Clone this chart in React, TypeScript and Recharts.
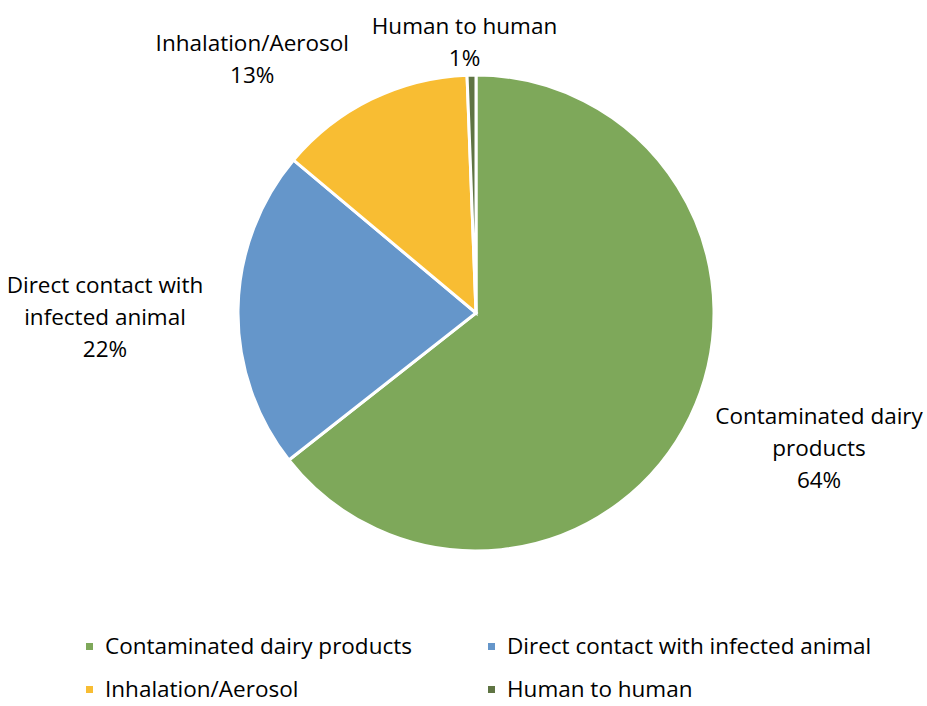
import { Pie, PieChart, Cell, Legend } from 'recharts';

const categories = ['Contaminated dairy products', 'Direct contact with infected animal', 'Inhalation/Aerosol', 'Human to human'];
const shares = [64.4, 21.7, 13.3, 0.6];
const labelLines = [
  ['Contaminated dairy', 'products'],
  ['Direct contact with', 'infected animal'],
  ['Inhalation/Aerosol'],
  ['Human to human'],
];
const colors = ['#7ea85a', '#6596ca', '#f8bd33', '#5f7443'];
// label offsets from the slice's outer edge
const labelShift = [
  [129, 30],
  [-133, 7],
  [-119, -41],
  [-7, -34],
];

const data = categories.map((name, i) => ({ name, value: shares[i] }));
const total = shares.reduce((a, b) => a + b, 0);
const FONT = '"Open Sans", sans-serif';
const FS = 22.5;
const RAD = Math.PI / 180;

function renderLabel(props: any) {
  const { cx, cy, midAngle, outerRadius, index, value } = props;
  const ex = cx + outerRadius * Math.cos(-midAngle * RAD);
  const ey = cy + outerRadius * Math.sin(-midAngle * RAD);
  const x = ex + labelShift[index][0];
  const y = ey + labelShift[index][1];
  const lines = [...labelLines[index], `${Math.round((value / total) * 100 + 1e-6)}%`];
  const lh = 32;
  const y0 = y - ((lines.length - 1) * lh) / 2;
  return (
    <text key={index} x={x} y={y0} textAnchor="middle" dominantBaseline="central" fill="#000" fontSize={FS} fontFamily={FONT}>
      {lines.map((l, i) => (
        <tspan key={i} x={x} y={y0 + i * lh} dominantBaseline="central">
          {l}
        </tspan>
      ))}
    </text>
  );
}

function LegendBox({ payload }: any) {
  const items = [...(payload || [])].sort((a: any, b: any) => categories.indexOf(a.value) - categories.indexOf(b.value));
  return (
    <div style={{ display: 'grid', gridTemplateColumns: '402px 402px', rowGap: 19, paddingLeft: 86, fontFamily: FONT, fontSize: FS, lineHeight: '24px', color: '#000' }}>
      {items.map((p: any) => (
        <div key={p.value} style={{ display: 'flex', alignItems: 'center', height: 24 }}>
          <span style={{ width: 7, height: 7, background: p.color, marginRight: 12, display: 'inline-block' }} />
          <span>{p.value}</span>
        </div>
      ))}
    </div>
  );
}

export default function App() {
  return (
    <div style={{ position: 'absolute', left: 0, top: 0, width: 927, height: 706, background: '#fff' }}>
      <PieChart width={927} height={706} margin={{ top: 0, right: 0, bottom: 0, left: 0 }}>
        <Pie
          data={data}
          dataKey="value"
          nameKey="name"
          cx={476}
          cy={313}
          outerRadius={238}
          startAngle={90}
          endAngle={-270}
          stroke="#fff"
          strokeWidth={3}
          label={renderLabel}
          labelLine={false}
          isAnimationActive={false}
        >
          {data.map((d, i) => (
            <Cell key={d.name} fill={colors[i]} />
          ))}
        </Pie>
        <Legend content={<LegendBox />} wrapperStyle={{ left: 0, top: 634, width: 927 }} />
      </PieChart>
    </div>
  );
}
